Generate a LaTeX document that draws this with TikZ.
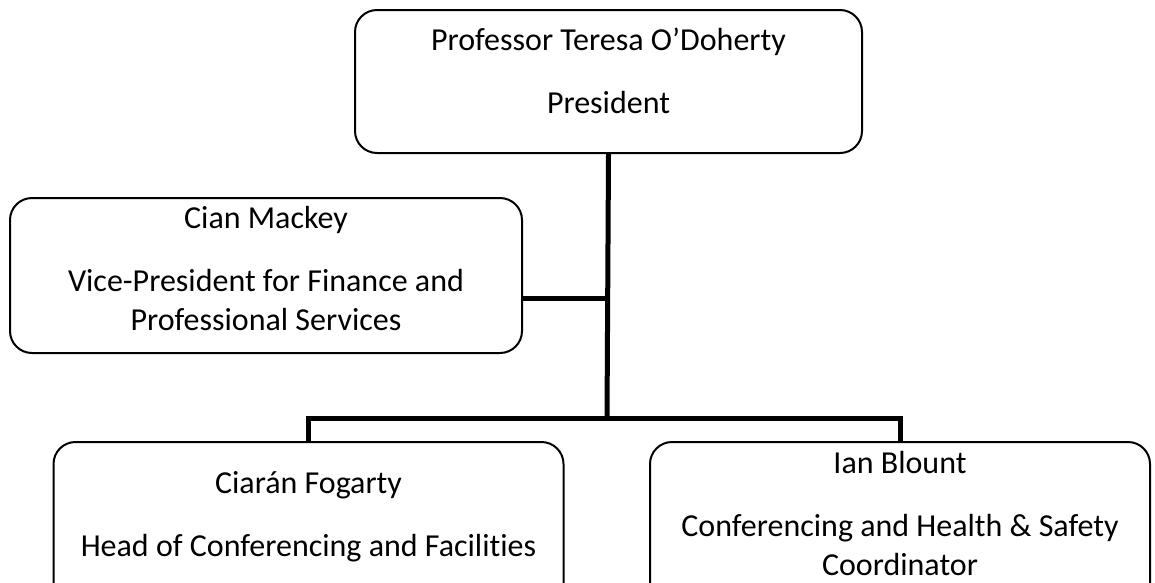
\documentclass[tikz,border=0pt]{standalone}
\usepackage{fontspec}
\setmainfont{Carlito}[Ligatures={TeX,NoCommon}]

\begin{document}
\begin{tikzpicture}[x=1pt,y=-1pt,
    box/.style={draw,line width=2pt,rounded corners=22pt,minimum width=510pt,
        align=center,inner sep=0pt,font=\fontsize{32}{39}\selectfont},
    link/.style={line width=5pt}]
    \useasboundingbox (0,0) rectangle (1155,582);
    \clip (0,0) rectangle (1155,582);

    \node[box,minimum width=507pt,text height=103pt,text depth=40pt] (pres) at (608.5,81.5) {Professor Teresa O’Doherty\\[24pt]President};
    \node[box,minimum width=512pt,text height=132pt,text depth=23pt] (vpf) at (266,275.5) {Cian Mackey\\[24pt]Vice-President for Finance and\\Professional Services};
    \node[box,text height=114pt,text depth=51pt] (hcf) at (308.5,524.5) {Ciarán Fogarty\\[24pt]Head of Conferencing and Facilities};
    \node[box,minimum width=500pt,text height=133.5pt,text depth=31.5pt] (hsc) at (900,524.5) {Ian Blount\\[24pt]Conferencing and Health \& Safety\\Coordinator};

    \coordinate (hub) at (607,298);
    \coordinate (bus) at (607,418);

    \draw[link] (pres.south) -- (bus);
    \draw[link] (vpf.east |- hub) -- (hub);
    \draw[link] (hcf.north) |- (bus) -| (hsc.north);
\end{tikzpicture}
\end{document}
